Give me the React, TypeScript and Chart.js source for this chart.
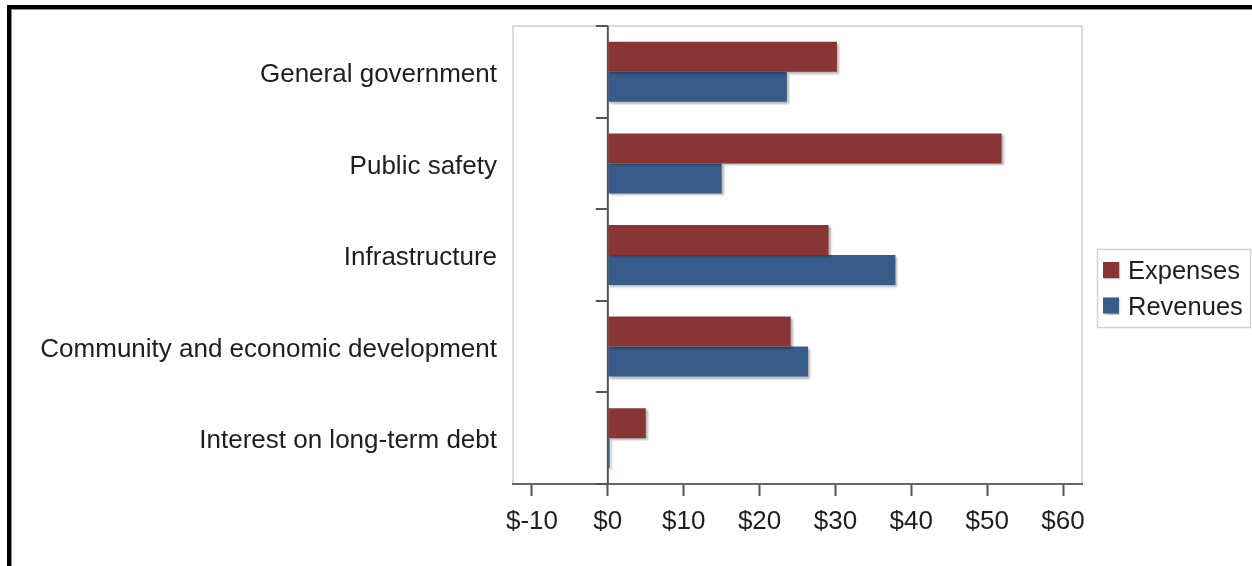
import React, { useEffect, useRef } from "react";
import { Chart, registerables } from "chart.js";

Chart.register(...registerables);

const categories = [
  "General government",
  "Public safety",
  "Infrastructure",
  "Community and economic development",
  "Interest on long-term debt",
];
const expenses = [30.2, 51.9, 29.1, 24.1, 5.0];
const revenues = [23.6, 15.0, 37.9, 26.4, 0.25];
const xTickValues = [-10, 0, 10, 20, 30, 40, 50, 60];
const seriesNames = ["Expenses", "Revenues"];
const seriesColors = ["#8A3535", "#375C8A"];

const FONT = "'Liberation Sans', Arial, sans-serif";
const TEXT = "#1e1e1e";

const framePlugin = {
  id: "frame",
  beforeDraw(chart: any) {
    const { ctx, width, height, chartArea } = chart;
    ctx.save();
    ctx.fillStyle = "#ffffff";
    ctx.fillRect(0, 0, width, height);
    ctx.fillStyle = "#000000";
    ctx.fillRect(7, 5, width - 7, 4);
    ctx.fillRect(7, 5, 4, height - 5);
    ctx.fillStyle = "#8a8a8a";
    ctx.fillRect(11, 9, width - 11, 1);
    ctx.fillRect(11, 9, 1, height - 9);
    ctx.strokeStyle = "#dadada";
    ctx.lineWidth = 2;
    ctx.strokeRect(chartArea.left, chartArea.top, chartArea.right - chartArea.left, chartArea.bottom - chartArea.top);
    ctx.restore();
  },
};

const zeroAxisPlugin = {
  id: "zeroAxis",
  beforeDatasetsDraw(chart: any) {
    const { ctx, chartArea, scales } = chart;
    const x0 = scales.x.getPixelForValue(0);
    ctx.save();
    ctx.strokeStyle = "#555555";
    ctx.lineWidth = 2;
    ctx.beginPath();
    ctx.moveTo(x0, chartArea.top);
    ctx.lineTo(x0, chartArea.bottom);
    for (let i = 0; i <= categories.length; i++) {
      const yb = Math.round(scales.y.getPixelForValue(i - 0.5));
      ctx.moveTo(x0 - 12, yb);
      ctx.lineTo(x0, yb);
    }
    ctx.stroke();
    ctx.restore();
  },
};

const shadowPlugin = {
  id: "barShadow",
  beforeDatasetsDraw(chart: any) {
    const ctx = chart.ctx;
    ctx.save();
    ctx.shadowColor = "rgba(0,0,0,0.28)";
    ctx.shadowOffsetX = 2;
    ctx.shadowOffsetY = 2;
    ctx.shadowBlur = 2;
  },
  afterDatasetsDraw(chart: any) {
    chart.ctx.restore();
  },
};

const legendPlugin = {
  id: "boxLegend",
  afterDraw(chart: any) {
    const ctx = chart.ctx;
    ctx.save();
    ctx.strokeStyle = "#d4d4d4";
    ctx.lineWidth = 1.5;
    ctx.strokeRect(1097.5, 249.5, 153, 78);
    ctx.font = `25.5px ${FONT}`;
    ctx.textBaseline = "alphabetic";
    ctx.textAlign = "left";
    seriesNames.forEach((name, i) => {
      const y = 262 + i * 35.5;
      ctx.save();
      ctx.shadowColor = "rgba(0,0,0,0.25)";
      ctx.shadowOffsetX = 1;
      ctx.shadowOffsetY = 1;
      ctx.shadowBlur = 1;
      ctx.fillStyle = seriesColors[i];
      ctx.fillRect(1103, y, 16, 16);
      ctx.restore();
      ctx.fillStyle = TEXT;
      ctx.fillText(name, 1128, 279 + i * 36);
    });
    ctx.restore();
  },
};

export default function App() {
  const canvasRef = useRef<HTMLCanvasElement | null>(null);

  useEffect(() => {
    if (!canvasRef.current) return;
    const chart = new Chart(canvasRef.current, {
      type: "bar",
      data: {
        labels: categories,
        datasets: [
          {
            label: seriesNames[0],
            data: expenses,
            backgroundColor: seriesColors[0],
            borderWidth: 0,
            categoryPercentage: 0.655,
            barPercentage: 1,
          },
          {
            label: seriesNames[1],
            data: revenues,
            backgroundColor: seriesColors[1],
            borderWidth: 0,
            categoryPercentage: 0.655,
            barPercentage: 1,
          },
        ],
      },
      options: {
        indexAxis: "y",
        animation: false,
        responsive: true,
        maintainAspectRatio: false,
        events: [],
        layout: { padding: { left: 0, top: 26, right: 170, bottom: 0 } },
        plugins: {
          legend: { display: false },
          tooltip: { enabled: false },
        },
        scales: {
          x: {
            type: "linear",
            min: -12.5,
            max: 62.5,
            afterBuildTicks: (s: any) => {
              s.ticks = xTickValues.map((v) => ({ value: v }));
            },
            grid: {
              drawOnChartArea: false,
              drawTicks: true,
              tickLength: 12,
              tickColor: "#555555",
              tickWidth: 2,
            },
            border: { display: true, color: "#666666", width: 2 },
            ticks: {
              callback: (v: any) => "$" + v,
              font: { family: FONT, size: 26 },
              color: TEXT,
              padding: 10,
              maxRotation: 0,
              autoSkip: false,
            },
            afterFit: (s: any) => {
              s.height = 82;
              s.paddingLeft = 0;
              s.paddingRight = 0;
            },
          },
          y: {
            type: "category",
            grid: { display: false, drawTicks: false },
            border: { display: false },
            ticks: {
              font: { family: FONT, size: 26 },
              color: TEXT,
              padding: 16,
              labelOffset: 3,
              autoSkip: false,
            },
            afterFit: (s: any) => {
              s.width = 513;
              s.paddingTop = 0;
              s.paddingBottom = 0;
            },
          },
        },
      } as any,
      plugins: [framePlugin, zeroAxisPlugin, shadowPlugin, legendPlugin],
    });
    return () => chart.destroy();
  }, []);

  return (
    <div style={{ position: "absolute", left: 0, top: 0, width: 1252, height: 566 }}>
      <canvas ref={canvasRef} />
    </div>
  );
}
